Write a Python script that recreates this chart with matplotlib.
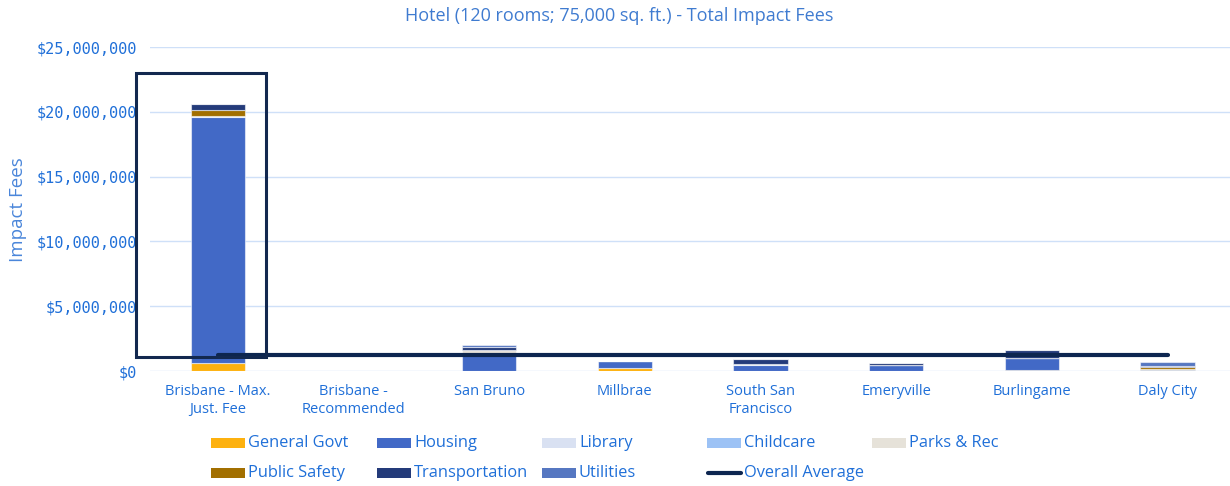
import matplotlib
matplotlib.use("Agg")
import matplotlib.pyplot as plt
from matplotlib.patches import Rectangle
from matplotlib.lines import Line2D
from matplotlib.ticker import FuncFormatter
import numpy as np

# ---------------- data ----------------
categories = ["Brisbane - Max.\nJust. Fee", "Brisbane -\nRecommended", "San Bruno", "Millbrae",
              "South San\nFrancisco", "Emeryville", "Burlingame", "Daly City"]
general_govt   = [650000, 0, 0, 200000, 0, 0, 50000, 100000]
housing        = [18950000, 0, 1300000, 570000, 460000, 450000, 950000, 60000]
library        = [60000, 0, 0, 0, 60000, 40000, 0, 0]
childcare      = [0, 0, 0, 0, 0, 0, 0, 0]
parks_rec      = [0, 0, 300000, 0, 0, 0, 0, 0]
public_safety  = [500000, 0, 0, 0, 0, 0, 40000, 130000]
transportation = [450000, 0, 220000, 0, 380000, 150000, 550000, 60000]
utilities      = [0, 0, 150000, 0, 0, 0, 0, 380000]
overall_average = 1200000
y_ticks = [0, 5000000, 10000000, 15000000, 20000000, 25000000]

series_names = ["General Govt", "Housing", "Library", "Childcare", "Parks & Rec",
                "Public Safety", "Transportation", "Utilities"]
series_values = [general_govt, housing, library, childcare, parks_rec,
                 public_safety, transportation, utilities]
series_colors = ["#FDB10F", "#4269C6", "#D9E1F2", "#9CC2F5", "#E6E2D9",
                 "#A26F00", "#243B7A", "#5677C1"]
avg_color = "#0D2650"

# highlight box around first category (x in category units, y in dollars)
hl_x0, hl_x1 = -0.6, 0.355
hl_y0, hl_y1 = 1060000, 22970000

blue_text = "#1F6FD8"
title_color = "#3F7BD0"
grid_color = "#CFE0F8"
sans = ["Open Sans", "DejaVu Sans"]
mono = ["DejaVu Sans Mono"]

W, H = 1230, 486
fig = plt.figure(figsize=(W / 100, H / 100), dpi=100)
ax = fig.add_axes([150 / W, (H - 371) / H, (1230 - 150) / W, (371 - 47) / H])

x = np.arange(len(categories))
bottom = np.zeros(len(categories))
for name, vals, col in zip(series_names, series_values, series_colors):
    v = np.array(vals, dtype=float)
    ax.bar(x, v, width=0.4, bottom=bottom, color=col, edgecolor=(1, 1, 1, 0.55),
           linewidth=0.8, zorder=2)
    bottom += v

ax.plot(x, [overall_average] * len(x), color=avg_color, lw=3, solid_capstyle="round", zorder=4)

ax.add_patch(Rectangle((hl_x0, hl_y0), hl_x1 - hl_x0, hl_y1 - hl_y0, fill=False,
                       edgecolor="#12284F", lw=2.2, clip_on=False, zorder=5))

ax.set_xlim(-0.5, 7.46)
ax.set_ylim(0, 25000000)
ax.set_yticks(y_ticks)
ax.yaxis.set_major_formatter(FuncFormatter(lambda v, p: "${:,.0f}".format(v)))
for s in ax.spines.values():
    s.set_visible(False)
ax.grid(axis="y", color=grid_color, lw=1, zorder=0)
ax.set_axisbelow(True)
ax.tick_params(axis="y", length=0, pad=9.5, labelsize=11, labelcolor=blue_text)
ax.tick_params(axis="x", length=0, pad=9, labelsize=10.5, labelcolor=blue_text)
for lab in ax.get_yticklabels():
    lab.set_fontfamily(mono)
ax.set_xticks(x)
ax.set_xticklabels(categories, fontfamily=sans, linespacing=1.35)

fig.text(619 / W, 1 - 16 / H, "Hotel (120 rooms; 75,000 sq. ft.) - Total Impact Fees",
         ha="center", va="center", color=title_color, fontsize=13, fontfamily=sans)
fig.text(18 / W, 1 - 210 / H, "Impact Fees", rotation=90, ha="center", va="center",
         color="#4A86DA", fontsize=13.5, fontfamily=sans)

# legend (manual, uniform columns)
col_x = [211, 377, 542, 707, 872]
row_y = [443, 473]
legend_items = [(n, c, "patch") for n, c in zip(series_names, series_colors)] + \
               [("Overall Average", avg_color, "line")]
for i, (name, col, kind) in enumerate(legend_items):
    r, c = divmod(i, 5)
    px, py = col_x[c], row_y[r]
    if kind == "patch":
        fig.add_artist(Rectangle((px / W, 1 - (py + 5) / H), 34 / W, 10 / H,
                                 transform=fig.transFigure, color=col, lw=0))
    else:
        fig.add_artist(Line2D([(px + 1) / W, (px + 34) / W], [1 - py / H] * 2,
                              transform=fig.transFigure, color=col, lw=3,
                              solid_capstyle="round"))
    fig.text((px + 37) / W, 1 - py / H, name, ha="left", va="center",
             color=blue_text, fontsize=11.8, fontfamily=sans)

fig.savefig("out.png", dpi=100)
